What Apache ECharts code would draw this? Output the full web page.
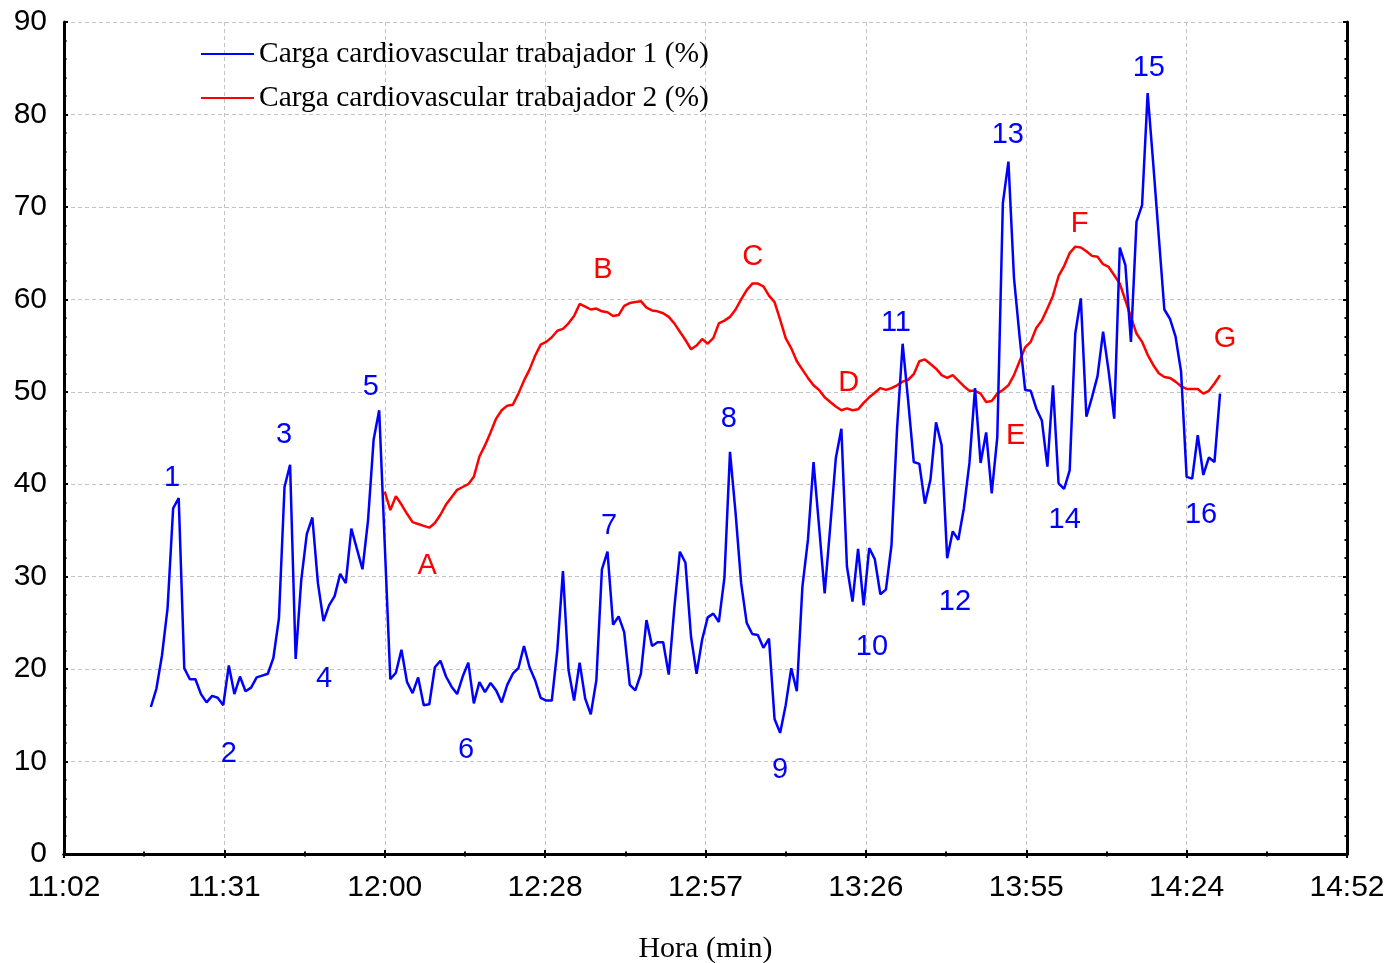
<!DOCTYPE html>
<html>
<head>
<meta charset="utf-8">
<title>Carga cardiovascular</title>
<script src="https://cdn.jsdelivr.net/npm/echarts@6/dist/echarts.min.js"></script>
<style>
  html, body { margin: 0; padding: 0; background: #ffffff; }
  #chart { width: 1393px; height: 963px; }
</style>
</head>
<body>
<div id="chart"></div>
<script>
// Time axis: ticks every 28.8 min (0.02 day), from 11:02.4 to 14:52.8
const xTickLabels = ['11:02', '11:31', '12:00', '12:28', '12:57', '13:26', '13:55', '14:24', '14:52'];
const xMinMinutes = 662.4;
const xStepMinutes = 28.8;

// Worker 1: one reading per minute starting at 11:18
const worker1Start = '11:18';
const worker1Values = [
  15.9, 17.9, 21.5, 26.6, 37.4, 38.5, 20.1, 18.9, 18.9, 17.3,
  16.4, 17.1, 16.9, 16.1, 20.4, 17.3, 19.2, 17.6, 18.0, 19.1,
  19.3, 19.5, 21.2, 25.5, 39.7, 42.1, 21.1, 29.6, 34.6, 36.4,
  29.3, 25.2, 26.9, 27.9, 30.3, 29.3, 35.2, 33.0, 30.8, 36.1,
  44.8, 48.0, 33.5, 18.9, 19.6, 22.1, 18.6, 17.4, 19.1, 16.1,
  16.2, 20.2, 20.9, 19.2, 18.1, 17.3, 19.2, 20.7, 16.3, 18.6,
  17.5, 18.5, 17.7, 16.4, 18.3, 19.5, 20.1, 22.5, 20.2, 18.8,
  16.9, 16.6, 16.6, 22.1, 30.6, 19.9, 16.6, 20.7, 16.8, 15.1,
  18.8, 30.8, 32.7, 24.8, 25.7, 24.0, 18.3, 17.7, 19.5, 25.3,
  22.5, 22.9, 22.9, 19.4, 26.6, 32.7, 31.5, 23.5, 19.5, 23.2,
  25.6, 26.0, 25.1, 29.9, 43.5, 36.9, 29.3, 25.0, 23.8, 23.7,
  22.3, 23.3, 14.6, 13.1, 16.1, 20.1, 17.6, 28.9, 34.0, 42.4,
  35.4, 28.2, 35.4, 42.8, 46.0, 31.1, 27.3, 33.0, 26.9, 33.1,
  31.9, 28.1, 28.6, 33.4, 46.0, 55.2, 49.0, 42.4, 42.2, 37.9,
  40.5, 46.7, 44.2, 32.0, 34.9, 34.0, 37.4, 42.3, 50.4, 42.3,
  45.6, 39.0, 45.1, 70.4, 74.9, 62.3, 56.0, 50.2, 50.1, 48.2,
  46.9, 41.9, 50.7, 40.1, 39.5, 41.5, 56.3, 60.1, 47.3, 49.4,
  51.7, 56.5, 52.2, 47.1, 65.6, 63.7, 55.4, 68.4, 70.2, 82.3,
  74.7, 66.8, 58.9, 57.9, 56.0, 52.2, 40.8, 40.6, 45.3, 41.0,
  42.9, 42.4, 49.8
];

// Worker 2: one reading per minute starting at 12:00
const worker2Start = '12:00';
const worker2Values = [
  39.2, 37.2, 38.7, 37.8, 36.8, 35.9, 35.7, 35.5, 35.3, 35.8,
  36.7, 37.8, 38.6, 39.4, 39.7, 40.0, 40.8, 43.0, 44.2, 45.6,
  47.1, 48.0, 48.5, 48.6, 49.8, 51.2, 52.4, 53.9, 55.1, 55.4,
  55.9, 56.6, 56.8, 57.4, 58.2, 59.5, 59.2, 58.9, 59.0, 58.7,
  58.6, 58.2, 58.3, 59.3, 59.6, 59.7, 59.8, 59.1, 58.8, 58.7,
  58.5, 58.1, 57.4, 56.5, 55.6, 54.6, 55.0, 55.7, 55.2, 55.8,
  57.4, 57.7, 58.1, 58.9, 60.0, 61.0, 61.7, 61.7, 61.4, 60.4,
  59.7, 57.8, 55.8, 54.7, 53.3, 52.4, 51.5, 50.7, 50.2, 49.4,
  48.9, 48.4, 48.0, 48.2, 48.0, 48.1, 48.8, 49.4, 49.9, 50.4,
  50.2, 50.4, 50.7, 51.1, 51.3, 51.9, 53.3, 53.5, 53.0, 52.5,
  51.8, 51.5, 51.8, 51.2, 50.6, 50.1, 50.1, 49.8, 48.9, 49.0,
  49.8, 50.2, 50.7, 51.8, 53.3, 54.8, 55.4, 56.9, 57.7, 59.0,
  60.4, 62.5, 63.6, 65.0, 65.7, 65.6, 65.2, 64.7, 64.6, 63.8,
  63.5, 62.6, 61.7, 59.9, 58.1, 56.3, 55.4, 54.0, 52.9, 52.0,
  51.6, 51.5, 51.1, 50.6, 50.3, 50.3, 50.3, 49.8, 50.1, 50.9,
  51.8
];

// Numbered events on worker 1's curve: [time, value, label]
const worker1Marks = [
  ['11:21.8', 40.9, '1'], ['11:32.0', 11.0, '2'], ['11:41.9', 45.5, '3'],
  ['11:49.1', 19.1, '4'], ['11:57.5', 50.7, '5'], ['12:14.6', 11.5, '6'],
  ['12:40.3', 35.7, '7'], ['13:01.8', 47.3, '8'], ['13:11.0', 9.3, '9'],
  ['13:27.5', 22.6, '10'], ['13:31.8', 57.7, '11'], ['13:42.4', 27.5, '12'],
  ['13:51.9', 78.0, '13'], ['14:02.1', 36.3, '14'], ['14:17.2', 85.2, '15'],
  ['14:26.6', 36.9, '16']
];

// Lettered events on worker 2's curve: [time, value, label]
const worker2Marks = [
  ['12:07.6', 31.4, 'A'], ['12:39.2', 63.4, 'B'], ['13:06.1', 64.8, 'C'],
  ['13:23.3', 51.2, 'D'], ['13:53.3', 45.4, 'E'], ['14:04.8', 68.4, 'F'],
  ['14:30.9', 55.9, 'G']
];

const seriesNames = ['Carga cardiovascular trabajador 1 (%)', 'Carga cardiovascular trabajador 2 (%)'];

function toMinutes(hhmm) {
  const [h, m] = hhmm.split(':');
  return Number(h) * 60 + Number(m);
}
function minuteSeries(start, values) {
  const t0 = toMinutes(start);
  return values.map((v, i) => [t0 + i, v]);
}
function markSeries(marks) {
  return marks.map(m => ({ value: [toMinutes(m[0]), m[1]], name: m[2] }));
}

const BLUE = '#0000ff';
const RED = '#ff0000';
const sansFont = 'Liberation Sans, Arial, sans-serif';
const serifFont = 'Liberation Serif, Times New Roman, serif';

const xMax = xMinMinutes + xStepMinutes * (xTickLabels.length - 1);

const axisLineStyle = { show: true, lineStyle: { color: '#000', width: 3 } };
const majorTick = { show: true, inside: true, length: 4, lineStyle: { color: '#000', width: 2 } };

const commonX = {
  type: 'value',
  min: xMinMinutes,
  max: xMax,
  interval: xStepMinutes,
  axisLine: axisLineStyle,
  axisTick: majorTick,
  minorTick: { show: true, splitNumber: 2, length: 2.5, lineStyle: { color: '#000', width: 2 } }
};
const commonY = {
  type: 'value',
  min: 0,
  max: 90,
  interval: 10,
  axisLine: axisLineStyle,
  axisTick: majorTick,
  minorTick: { show: true, splitNumber: 5, length: 2.5, lineStyle: { color: '#000', width: 2 } }
};
const gridLine = { show: true, lineStyle: { color: '#c4c4c4', width: 1, type: [4, 3] } };

const markLabel = color => ({
  show: true, position: 'inside', formatter: '{b}', offset: [0, 2],
  fontFamily: sansFont, fontSize: 29, color: color,
  textBorderWidth: 0, textBorderColor: 'transparent', textShadowBlur: 0
});

const chart = echarts.init(document.getElementById('chart'), null, { renderer: 'canvas' });
chart.setOption({
  animation: false,
  backgroundColor: '#ffffff',
  grid: { left: 64, right: 46, top: 22, bottom: 109, containLabel: false, outerBoundsMode: 'none' },
  legend: {
    data: seriesNames,
    orient: 'vertical',
    left: 196,
    top: 33,
    icon: 'rect',
    itemWidth: 53,
    itemHeight: 2,
    itemGap: 12,
    selectedMode: false,
    textStyle: { fontFamily: serifFont, fontSize: 29.5, color: '#000', lineHeight: 32 }
  },
  xAxis: [
    Object.assign({}, commonX, {
      position: 'bottom',
      name: 'Hora (min)',
      nameLocation: 'middle',
      nameGap: 80,
      nameTextStyle: { fontFamily: serifFont, fontSize: 30, color: '#000' },
      splitLine: gridLine,
      axisLabel: {
        show: true,
        margin: 19,
        fontFamily: sansFont,
        fontSize: 30,
        color: '#000',
        formatter: v => xTickLabels[Math.round((v - xMinMinutes) / xStepMinutes)] || ''
      }
    }),
    Object.assign({}, commonX, {
      position: 'top',
      splitLine: { show: false },
      axisLabel: { show: false }
    })
  ],
  yAxis: [
    Object.assign({}, commonY, {
      position: 'left',
      splitLine: gridLine,
      axisLabel: { show: true, margin: 17, fontFamily: sansFont, fontSize: 30, color: '#000' }
    }),
    Object.assign({}, commonY, {
      position: 'right',
      splitLine: { show: false },
      axisLabel: { show: false }
    })
  ],
  series: [
    {
      name: seriesNames[0],
      type: 'line',
      data: minuteSeries(worker1Start, worker1Values),
      showSymbol: false,
      symbol: 'none',
      lineStyle: { color: BLUE, width: 2.5 },
      itemStyle: { color: BLUE },
      z: 3
    },
    {
      name: seriesNames[1],
      type: 'line',
      data: minuteSeries(worker2Start, worker2Values),
      showSymbol: false,
      symbol: 'none',
      lineStyle: { color: RED, width: 2.5 },
      itemStyle: { color: RED },
      z: 2
    },
    {
      name: 'marks1',
      type: 'scatter',
      data: markSeries(worker1Marks),
      symbolSize: 1,
      itemStyle: { color: 'rgba(0,0,0,0)', opacity: 1 },
      silent: true,
      label: markLabel(BLUE),
      z: 5
    },
    {
      name: 'marks2',
      type: 'scatter',
      data: markSeries(worker2Marks),
      symbolSize: 1,
      itemStyle: { color: 'rgba(0,0,0,0)', opacity: 1 },
      silent: true,
      label: markLabel(RED),
      z: 5
    }
  ]
});
</script>
</body>
</html>
